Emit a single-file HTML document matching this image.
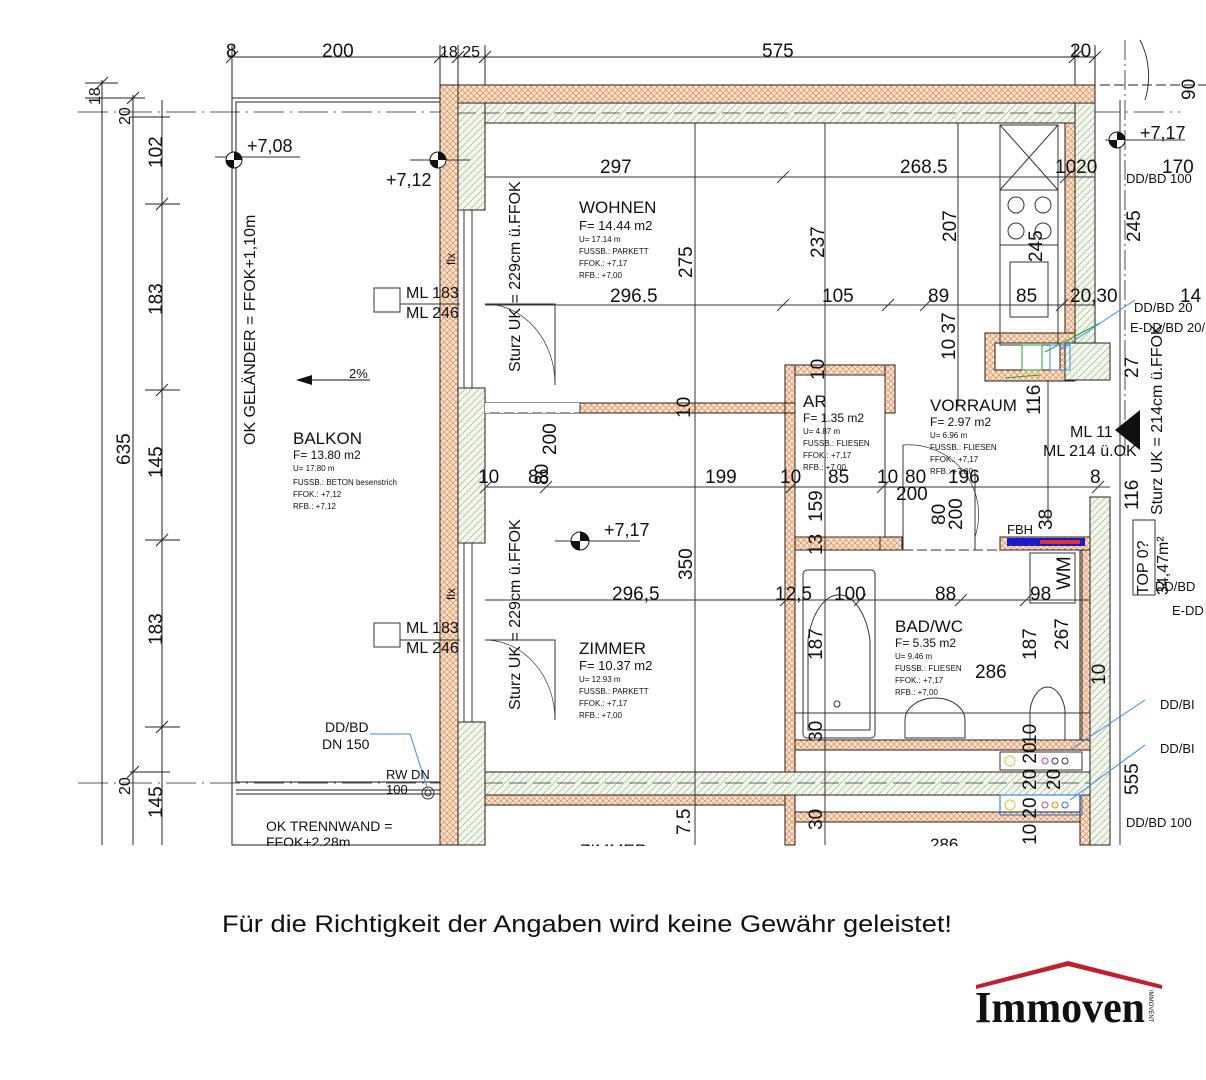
<!DOCTYPE html>
<html><head><meta charset="utf-8"><style>
html,body{margin:0;padding:0;background:#fff;width:1206px;height:1080px;overflow:hidden}
svg{display:block}
text{font-family:"Liberation Sans",sans-serif;fill:#111}
.n{font-family:"Liberation Sans Narrow","Liberation Sans",sans-serif}
</style></head><body>
<svg width="1206" height="1080" viewBox="0 0 1206 1080" xmlns="http://www.w3.org/2000/svg">
<defs>
<pattern id="or" width="6" height="6" patternUnits="userSpaceOnUse">
<rect width="6" height="6" fill="#fbe6d6"/>
<path d="M0 0L6 6M6 0L0 6" stroke="#e8925a" stroke-width="0.8"/>
</pattern>
<pattern id="gr" width="7" height="7" patternUnits="userSpaceOnUse">
<rect width="7" height="7" fill="#f4f7ee"/>
<path d="M0 7L7 0" stroke="#a9c29a" stroke-width="0.8"/>
</pattern>
</defs>

<g stroke="#222" stroke-width="1" fill="none">
<line x1="228" y1="57" x2="1095" y2="57"/>
<line x1="232" y1="45" x2="232" y2="98"/>
<line x1="440" y1="45" x2="440" y2="85"/>
<line x1="458" y1="45" x2="458" y2="85"/>
<line x1="485" y1="45" x2="485" y2="85"/>
<line x1="1075" y1="45" x2="1075" y2="85"/>
<line x1="1095" y1="45" x2="1095" y2="100"/>
<path d="M226 63L238 51M434 63L446 51M452 63L464 51M479 63L491 51M1069 63L1081 51M1089 63L1101 51"/>
<line x1="102" y1="80" x2="102" y2="845"/>
<line x1="133" y1="95" x2="133" y2="845"/>
<line x1="162" y1="100" x2="162" y2="845"/>
<line x1="85" y1="83" x2="118" y2="83"/>
<line x1="85" y1="98" x2="145" y2="98"/>
<line x1="130" y1="117" x2="170" y2="117"/>
<line x1="145" y1="204" x2="180" y2="204"/>
<line x1="145" y1="390" x2="180" y2="390"/>
<line x1="145" y1="540" x2="180" y2="540"/>
<line x1="145" y1="727" x2="180" y2="727"/>
<line x1="130" y1="772" x2="170" y2="772"/>
<path d="M96 89L108 77M127 104L139 92M156 210L168 198M156 396L168 384M156 546L168 534M156 733L168 721M127 778L139 766"/>
<line x1="78" y1="112" x2="1180" y2="112" stroke-dasharray="30 6 2 6" stroke-width="0.8"/>
<line x1="78" y1="783" x2="485" y2="783" stroke-dasharray="30 6 2 6" stroke-width="0.8"/>
<line x1="1100" y1="85" x2="1206" y2="85" stroke-dasharray="10 4"/>
<line x1="1125" y1="40" x2="1125" y2="460" stroke-dasharray="20 4 2 4" stroke-width="0.8"/>
<rect x="232" y="98" width="208" height="747"/>
<rect x="236" y="102" width="204" height="680"/>
<line x1="236" y1="790" x2="440" y2="790"/>
<line x1="236" y1="794" x2="440" y2="794"/>
</g>

<g stroke="#222" stroke-width="1">
<rect x="440" y="85" width="655" height="18" fill="url(#or)"/>
<rect x="440" y="85" width="18" height="760" fill="url(#or)"/>
<rect x="458" y="103" width="617" height="20" fill="url(#gr)"/>
<rect x="458" y="103" width="27" height="107" fill="url(#gr)"/>
<rect x="458" y="388" width="27" height="155" fill="url(#gr)"/>
<rect x="458" y="722" width="27" height="123" fill="url(#gr)"/>
<rect x="1075" y="103" width="20" height="275" fill="url(#gr)"/>
<rect x="1065" y="123" width="10" height="220" fill="url(#or)"/>
<rect x="985" y="333" width="90" height="48" fill="url(#or)"/>
<rect x="995" y="343" width="65" height="27" fill="#fff"/>
<rect x="1065" y="343" width="45" height="37" fill="url(#gr)"/>
<rect x="485" y="403" width="300" height="10" fill="url(#or)"/>
<rect x="485" y="403" width="95" height="10" fill="#fff" stroke="none"/>
<rect x="785" y="365" width="110" height="10" fill="url(#or)"/>
<rect x="785" y="365" width="10" height="407" fill="url(#or)"/>
<rect x="885" y="365" width="10" height="48" fill="url(#or)"/>
<rect x="795" y="537" width="85" height="13" fill="url(#or)"/>
<rect x="880" y="537" width="22" height="13" fill="url(#or)"/>
<rect x="1000" y="537" width="100" height="13" fill="url(#or)"/>
<rect x="785" y="403" width="10" height="10" fill="url(#or)"/>
<rect x="1090" y="497" width="20" height="348" fill="url(#gr)"/>
<rect x="1080" y="550" width="10" height="190" fill="url(#or)"/>
<rect x="795" y="740" width="295" height="10" fill="url(#or)"/>
<rect x="485" y="772" width="605" height="23" fill="url(#gr)"/>
<rect x="485" y="795" width="300" height="10" fill="url(#or)"/>
<rect x="785" y="795" width="10" height="50" fill="url(#or)"/>
<rect x="795" y="812" width="295" height="10" fill="url(#or)"/>
<rect x="1080" y="795" width="10" height="50" fill="url(#or)"/>
</g>
<line x1="485" y1="783" x2="1090" y2="783" stroke="#333" stroke-dasharray="18 6" stroke-width="0.8"/>
<line x1="458" y1="113" x2="1075" y2="113" stroke="#333" stroke-dasharray="18 6" stroke-width="0.8"/>

<g stroke="#333" stroke-width="1" fill="none">
<rect x="458" y="210" width="6" height="178"/><line x1="472" y1="210" x2="472" y2="388"/>
<rect x="458" y="543" width="6" height="179"/><line x1="472" y1="543" x2="472" y2="722"/>
<path d="M485 304L555 304L555 385"/>
<path d="M485 304A70 80 0 0 1 555 385" stroke-width="0.7"/>
<path d="M485 640L555 640L555 720"/>
<path d="M485 640A70 80 0 0 1 555 720" stroke-width="0.7"/>
<path d="M580 403L580 413" />
<path d="M490 413L580 413" stroke-dasharray="10 4"/>
<path d="M903 445A70 70 0 0 1 975 537" stroke-width="0.7"/>
<path d="M903 445L903 550M975 470L975 550"/>
<path d="M903 550L1000 550" stroke-dasharray="10 4"/>
<rect x="1000" y="125" width="58" height="220"/>
<path d="M1000 125L1058 190M1058 125L1000 190M1000 190L1058 190M1000 245L1058 245"/>
<circle cx="1016" cy="205" r="8"/><circle cx="1043" cy="205" r="8"/>
<circle cx="1016" cy="231" r="8"/><circle cx="1043" cy="231" r="8"/>
<rect x="1010" y="262" width="38" height="55"/>
<rect x="795" y="375" width="90" height="162"/>
<rect x="803" y="570" width="72" height="168" rx="4"/>
<path d="M808 640A32 60 0 0 1 870 640L870 730L808 730Z"/>
<circle cx="837" cy="704" r="3"/>
<path d="M905 720A30 22 0 0 1 965 720L965 738L905 738Z"/>
<path d="M1030 710A18 30 0 0 1 1065 710L1065 740L1030 740Z"/>
<rect x="1030" y="553" width="45" height="50"/>
<rect x="1000" y="752" width="82" height="18"/>
<rect x="1000" y="795" width="82" height="20" stroke="#1b6fd8"/>
<circle cx="1010" cy="761" r="5" stroke="#cc3"/>
<circle cx="1045" cy="761" r="3" stroke="#b4b"/><circle cx="1055" cy="761" r="3"/><circle cx="1065" cy="761" r="3"/>
<circle cx="1010" cy="805" r="5" stroke="#cc3"/>
<circle cx="1045" cy="805" r="3" stroke="#b4b"/><circle cx="1055" cy="805" r="3" stroke="#e80"/><circle cx="1065" cy="805" r="3" stroke="#1b6fd8"/>
<line x1="485" y1="177" x2="1095" y2="177"/>
<line x1="485" y1="305" x2="1095" y2="305"/>
<line x1="485" y1="487" x2="1110" y2="487"/>
<line x1="485" y1="600" x2="1090" y2="600"/>
<line x1="795" y1="713" x2="1090" y2="713"/>
<line x1="695" y1="123" x2="695" y2="845"/>
<line x1="825" y1="123" x2="825" y2="845"/>
<line x1="958" y1="123" x2="958" y2="405"/>
<line x1="1120" y1="100" x2="1120" y2="845"/>
<line x1="1048" y1="380" x2="1048" y2="520"/>
<line x1="1082" y1="550" x2="1082" y2="740"/>
<path d="M777 183L789 171M1060 183L1072 171M777 311L789 299M882 311L894 299M920 311L932 299M1056 311L1068 299M480 493L492 481M540 493L552 481M786 493L798 481M877 493L889 481M1092 493L1104 481M780 606L792 594M854 606L866 594M955 606L967 594M1020 606L1032 594"/>
<rect x="374" y="288" width="26" height="24"/><line x1="400" y1="304" x2="460" y2="304"/>
<rect x="374" y="623" width="26" height="24"/><line x1="400" y1="640" x2="460" y2="640"/>
<line x1="215" y1="157" x2="300" y2="157"/>
<line x1="410" y1="160" x2="470" y2="160"/>
<line x1="555" y1="541" x2="640" y2="541"/>
<line x1="1105" y1="140" x2="1185" y2="140"/>
<circle cx="428" cy="793" r="6"/><circle cx="428" cy="793" r="3"/>
<path d="M1140 40A60 70 0 0 1 1145 100"/>
<rect x="1133" y="520" width="22" height="75"/>
</g>
<line x1="310" y1="380" x2="370" y2="380" stroke="#111"/>
<path d="M296 380L312 375L312 385Z" fill="#111"/>
<path d="M1115 430L1140 410L1140 450Z" fill="#111"/>
<g fill="#111">
<circle cx="234" cy="160" r="8" fill="#fff" stroke="#111"/><path d="M234 152A8 8 0 0 1 242 160L234 160Z M234 168A8 8 0 0 1 226 160L234 160Z"/>
<circle cx="438" cy="160" r="8" fill="#fff" stroke="#111"/><path d="M438 152A8 8 0 0 1 446 160L438 160Z M438 168A8 8 0 0 1 430 160L438 160Z"/>
<circle cx="580" cy="541" r="9" fill="#fff" stroke="#111"/><path d="M580 532A9 9 0 0 1 589 541L580 541Z M580 550A9 9 0 0 1 571 541L580 541Z"/>
<circle cx="1117" cy="140" r="8" fill="#fff" stroke="#111"/><path d="M1117 132A8 8 0 0 1 1125 140L1117 140Z M1117 148A8 8 0 0 1 1109 140L1117 140Z"/>
</g>
<rect x="1007" y="538" width="78" height="8" fill="#1a1acc"/>
<rect x="1040" y="540" width="40" height="4" fill="#d33"/>
<g stroke="#2a2" fill="none"><rect x="1022" y="345" width="20" height="25"/><path d="M1100 323L1045 352M1005 378L1040 375"/></g>
<g stroke="#3a8ae8" fill="none"><rect x="1050" y="345" width="20" height="25"/><path d="M1135 300L1060 350M1145 700L1070 750M1145 745L1070 800M370 734L410 734L428 790"/></g>

<g font-size="19" class="n">
<text x="322" y="57">200</text><text x="762" y="57">575</text>
<text x="1070" y="57">20</text><text x="226" y="57">8</text><text x="440" y="57" font-size="16">18 25</text>
<text x="600" y="173">297</text><text x="900" y="173">268.5</text><text x="1055" y="173">1020</text><text x="1162" y="173">170</text>
<text x="610" y="302">296.5</text><text x="822" y="302">105</text><text x="928" y="302">89</text><text x="1016" y="302">85</text><text x="1070" y="302">20,30</text><text x="1180" y="302">14</text>
<text x="478" y="483">10</text><text x="528" y="483">88</text><text x="705" y="483">199</text><text x="780" y="483">10</text><text x="828" y="483">85</text><text x="877" y="483">10</text><text x="905" y="483">80</text><text x="948" y="483">196</text><text x="1090" y="483">8</text>
<text x="612" y="600">296,5</text><text x="775" y="600">12,5</text><text x="834" y="600">100</text><text x="935" y="600">88</text><text x="1030" y="600">98</text>
<text x="975" y="678">286</text><text x="896" y="500">200</text>
</g>
<g font-size="19" class="n">
<text transform="translate(692,278) rotate(-90)">275</text>
<text transform="translate(824,258) rotate(-90)">237</text>
<text transform="translate(956,242) rotate(-90)">207</text>
<text transform="translate(1042,262) rotate(-90)">245</text>
<text transform="translate(1140,242) rotate(-90)">245</text>
<text transform="translate(692,580) rotate(-90)">350</text>
<text transform="translate(955,360) rotate(-90)">10 37</text>
<text transform="translate(824,380) rotate(-90)">10</text>
<text transform="translate(690,418) rotate(-90)">10</text>
<text transform="translate(1040,415) rotate(-90)">116</text>
<text transform="translate(1138,378) rotate(-90)">27</text>
<text transform="translate(1138,510) rotate(-90)">116</text>
<text transform="translate(1195,100) rotate(-90)">90</text>
<text transform="translate(548,485) rotate(-90)">80</text>
<text transform="translate(556,455) rotate(-90)">200</text>
<text transform="translate(822,522) rotate(-90)">159</text>
<text transform="translate(822,555) rotate(-90)">13</text>
<text transform="translate(945,525) rotate(-90)">80</text>
<text transform="translate(962,530) rotate(-90)">200</text>
<text transform="translate(1052,530) rotate(-90)">38</text>
<text transform="translate(1070,590) rotate(-90)">WM</text>
<text transform="translate(822,660) rotate(-90)">187</text>
<text transform="translate(1036,660) rotate(-90)">187</text>
<text transform="translate(1068,650) rotate(-90)">267</text>
<text transform="translate(822,742) rotate(-90)">30</text>
<text transform="translate(1036,745) rotate(-90)">10</text>
<text transform="translate(1036,790) rotate(-90)">20 20</text>
<text transform="translate(1060,790) rotate(-90)">20</text>
<text transform="translate(1138,795) rotate(-90)">555</text>
<text transform="translate(690,835) rotate(-90)">7.5</text>
<text transform="translate(822,830) rotate(-90)">30</text>
<text transform="translate(1036,845) rotate(-90)">10 20</text>
<text transform="translate(1105,685) rotate(-90)">10</text>
<text transform="translate(162,168) rotate(-90)">102</text>
<text transform="translate(162,315) rotate(-90)">183</text>
<text transform="translate(162,478) rotate(-90)">145</text>
<text transform="translate(162,645) rotate(-90)">183</text>
<text transform="translate(162,818) rotate(-90)">145</text>
<text transform="translate(130,465) rotate(-90)">635</text>
<text transform="translate(100,105) rotate(-90)" font-size="16">18</text>
<text transform="translate(130,125) rotate(-90)" font-size="16">20</text>
<text transform="translate(130,795) rotate(-90)" font-size="16">20</text>
</g>
<g font-size="16">
<text transform="translate(520,372) rotate(-90)">Sturz UK = 229cm ü.FFOK</text>
<text transform="translate(520,710) rotate(-90)">Sturz UK = 229cm ü.FFOK</text>
<text transform="translate(255,445) rotate(-90)">OK GELÄNDER = FFOK+1,10m</text>
<text transform="translate(1162,515) rotate(-90)">Sturz UK = 214cm ü.FFOK</text>
<text transform="translate(1148,595) rotate(-90)">TOP 0?</text>
<text transform="translate(1168,595) rotate(-90)">34,47m²</text>
<text transform="translate(455,265) rotate(-90)" font-size="12">flx</text>
<text transform="translate(455,600) rotate(-90)" font-size="12">flx</text>
<text x="406" y="298">ML 183</text><text x="406" y="318">ML 246</text>
<text x="406" y="633">ML 183</text><text x="406" y="653">ML 246</text>
<text x="247" y="152" font-size="18">+7,08</text>
<text x="386" y="186" font-size="18">+7,12</text>
<text x="604" y="536" font-size="18">+7,17</text>
<text x="1140" y="139" font-size="18">+7,17</text>
<text x="349" y="378" font-size="13">2%</text>
<text x="1070" y="437">ML 11</text><text x="1043" y="456">ML 214 ü.OK</text>
<text x="1007" y="534" font-size="13">FBH</text>
<text x="386" y="779" font-size="13">RW DN</text><text x="386" y="794" font-size="13">100</text>
<text x="266" y="831" font-size="14">OK TRENNWAND =</text><text x="266" y="847" font-size="14">FFOK+2.28m</text>
</g>
<g fill="#3a8ae8" font-size="13">
<text x="1126" y="183" fill="#3a8ae8">DD/BD 100</text>
<text x="1134" y="312" fill="#3a8ae8">DD/BD 20</text>
<text x="1155" y="591" fill="#3a8ae8">DD/BD</text>
<text x="1160" y="709" fill="#3a8ae8">DD/BI</text>
<text x="1160" y="753" fill="#3a8ae8">DD/BI</text>
<text x="1126" y="827" fill="#3a8ae8">DD/BD 100</text>
<text x="325" y="732" fill="#3a8ae8" font-size="14">DD/BD</text>
<text x="322" y="749" fill="#3a8ae8" font-size="14">DN 150</text>
<text x="1130" y="332" fill="#2a2">E-DD/BD 20/</text>
<text x="1172" y="615" fill="#2a2">E-DD</text>
</g>
<g>
<text x="579" y="213" font-size="17" class="n">WOHNEN</text>
<text x="579" y="230" font-size="13">F=  14.44 m2</text>
<text x="579" y="242" font-size="8">U=       17.14 m</text>
<text x="579" y="254" font-size="8">FUSSB.: PARKETT</text>
<text x="579" y="266" font-size="8">FFOK.:   +7,17</text>
<text x="579" y="278" font-size="8">RFB.:    +7,00</text>
<text x="579" y="654" font-size="17" class="n">ZIMMER</text>
<text x="579" y="670" font-size="13">F=  10.37 m2</text>
<text x="579" y="682" font-size="8">U=       12.93 m</text>
<text x="579" y="694" font-size="8">FUSSB.: PARKETT</text>
<text x="579" y="706" font-size="8">FFOK.:   +7,17</text>
<text x="579" y="718" font-size="8">RFB.:    +7,00</text>
<text x="293" y="444" font-size="17">BALKON</text>
<text x="293" y="459" font-size="12">F=  13.80 m2</text>
<text x="293" y="471" font-size="8">U=        17.80 m</text>
<text x="293" y="485" font-size="8">FUSSB.: BETON besenstrich</text>
<text x="293" y="497" font-size="8">FFOK.:  +7,12</text>
<text x="293" y="509" font-size="8">RFB.:    +7,12</text>
<text x="803" y="407" font-size="17" class="n">AR</text>
<text x="803" y="422" font-size="12">F=    1.35 m2</text>
<text x="803" y="434" font-size="8">U=        4.87 m</text>
<text x="803" y="446" font-size="8">FUSSB.: FLIESEN</text>
<text x="803" y="458" font-size="8">FFOK.:  +7,17</text>
<text x="803" y="470" font-size="8">RFB.:    +7,00</text>
<text x="930" y="411" font-size="17" class="n">VORRAUM</text>
<text x="930" y="426" font-size="12">F=    2.97 m2</text>
<text x="930" y="438" font-size="8">U=        6.96 m</text>
<text x="930" y="450" font-size="8">FUSSB.: FLIESEN</text>
<text x="930" y="462" font-size="8">FFOK.:  +7,17</text>
<text x="930" y="474" font-size="8">RFB.:    +7,00</text>
<text x="895" y="632" font-size="17" class="n">BAD/WC</text>
<text x="895" y="647" font-size="12">F=    5.35 m2</text>
<text x="895" y="659" font-size="8">U=        9.46 m</text>
<text x="895" y="671" font-size="8">FUSSB.: FLIESEN</text>
<text x="895" y="683" font-size="8">FFOK.:  +7,17</text>
<text x="895" y="695" font-size="8">RFB.:    +7,00</text>
<text x="580" y="856" font-size="17">ZIMMER</text>
<text x="930" y="850" font-size="17">286</text>
</g>
<rect x="0" y="846" width="1206" height="234" fill="#fff"/>
<text x="222" y="932" font-size="24" textLength="730" lengthAdjust="spacingAndGlyphs">Für die Richtigkeit der Angaben wird keine Gewähr geleistet!</text>
<path d="M976 985L1068 961L1162 985L1162 989L1068 966L976 989Z" fill="#c0202e"/>
<text x="975" y="1022" font-size="44" font-weight="bold" textLength="170" lengthAdjust="spacingAndGlyphs" style="font-family:'Liberation Serif',serif">Immoven</text>
<text transform="translate(1149,990) rotate(90)" font-size="6">IMMOVENT</text>
</svg>
</body></html>
